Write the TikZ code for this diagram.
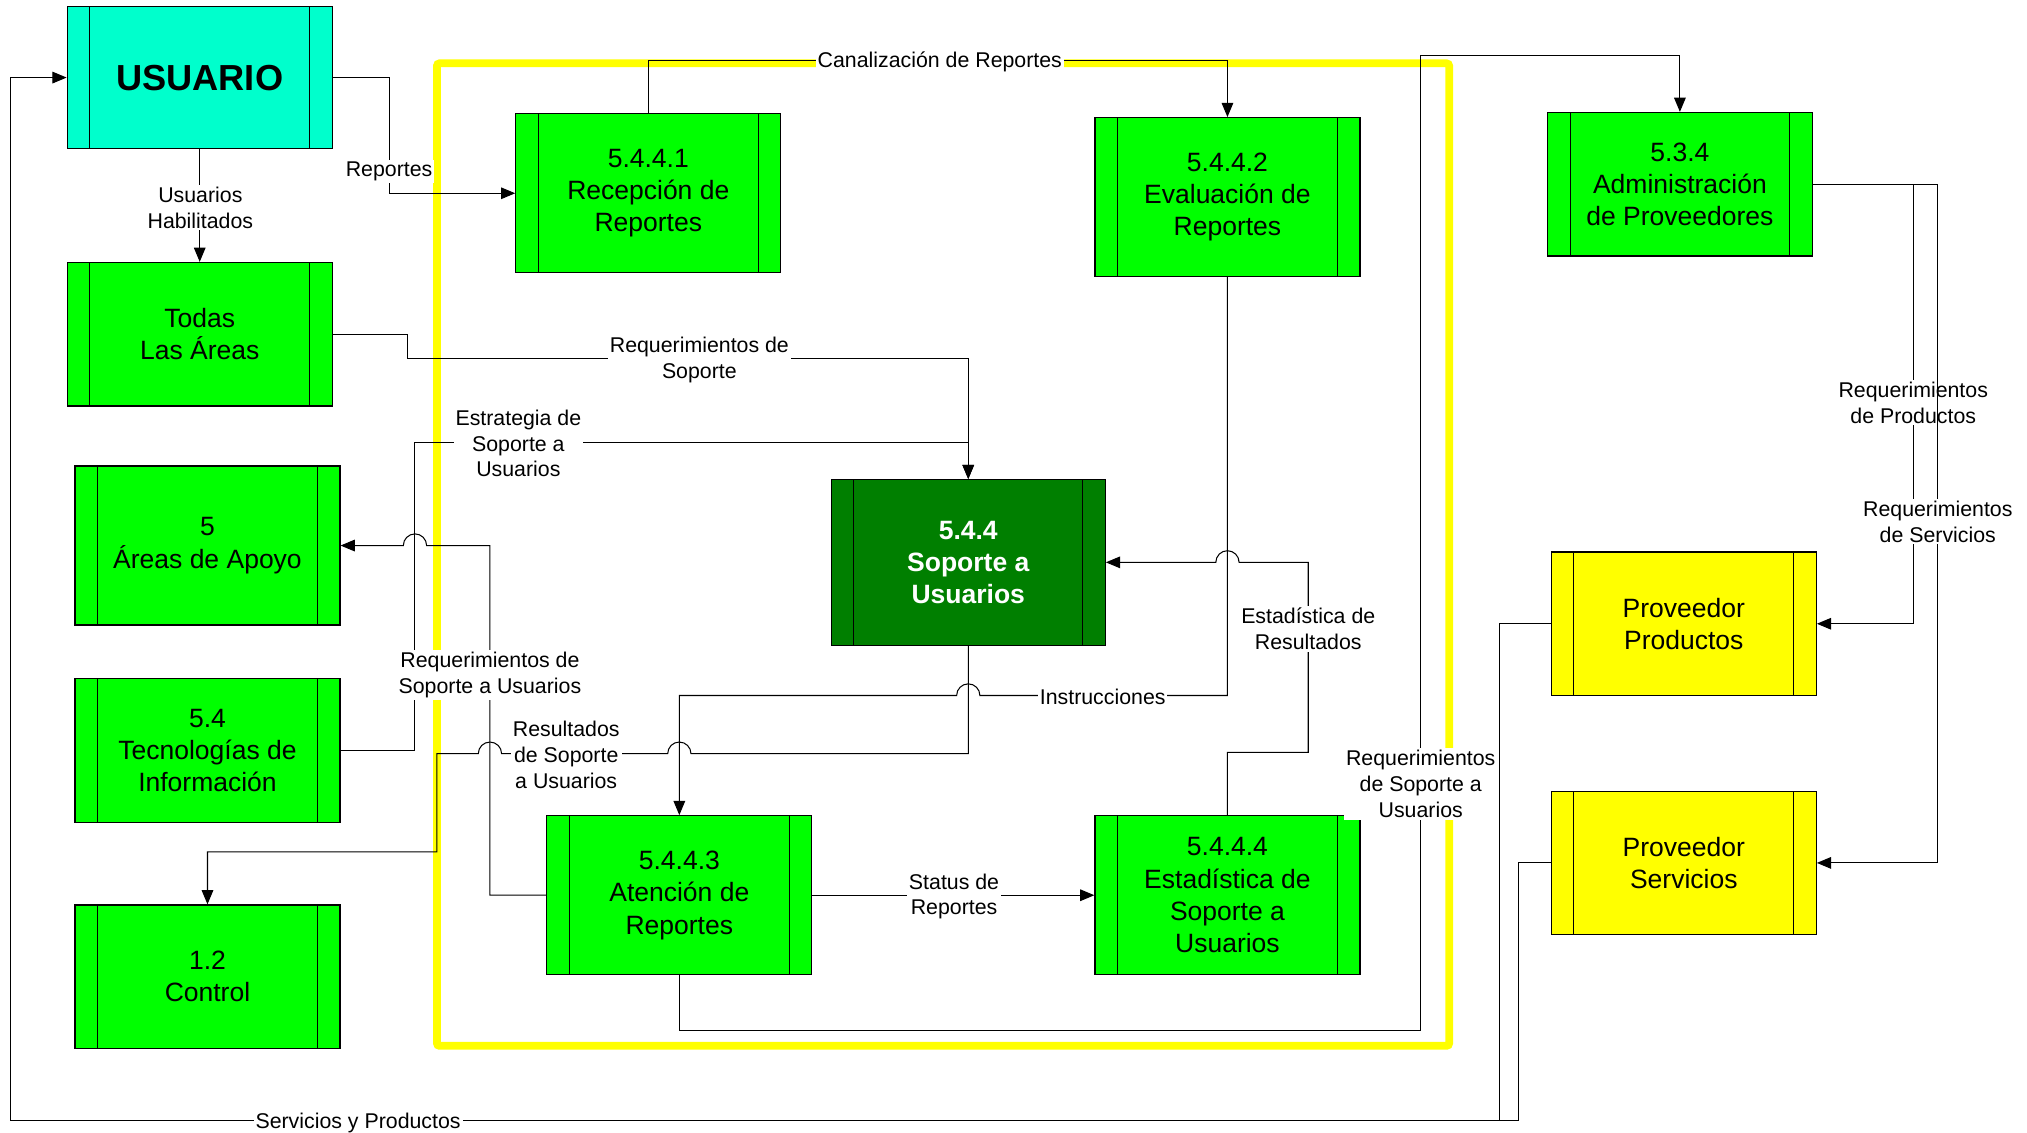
\documentclass[tikz,border=0pt]{standalone}
\usepackage{fontspec}
\setmainfont{Liberation Sans}
\usetikzlibrary{arrows.meta}
\definecolor{lgreen}{HTML}{00FF00}
\definecolor{dgreen}{HTML}{007F00}
\definecolor{cyanbox}{HTML}{00FFCC}
\definecolor{ybox}{HTML}{FFFF00}
\tikzset{
  box/.style={draw=black, line width=0.9pt, fill=lgreen, minimum width=205pt, minimum height=123pt,
    inner sep=0pt, align=center, font=\fontsize{20.5}{25}\selectfont,
    path picture={
      \draw[line width=0.8pt] ([xshift=17.5pt]path picture bounding box.north west) -- ([xshift=17.5pt]path picture bounding box.south west);
      \draw[line width=0.8pt] ([xshift=-17.5pt]path picture bounding box.north east) -- ([xshift=-17.5pt]path picture bounding box.south east);}},
  conn/.style={draw=black, line width=0.8pt, -{Triangle[length=11pt,width=9pt]}},
  plain/.style={draw=black, line width=0.8pt},
  lbl/.style={fill=white, inner sep=1.5pt, yshift=-1.5pt, align=center, font=\fontsize{16.5}{20}\selectfont}
}
\begin{document}
\begin{tikzpicture}[x=1pt,y=-1pt]
\useasboundingbox[fill=white] (0,0) rectangle (1568,876);
% yellow frame
\draw[ybox, line width=6pt, rounded corners=2pt] (338,49) rectangle (1121,809);
% boxes
\node[box, fill=cyanbox, minimum height=110pt, font=\fontsize{28}{34}\selectfont\bfseries] (usuario) at (154.5,60) {USUARIO};
\node[box, minimum height=111pt] (todas) at (154.5,258.5) {Todas\\Las Áreas};
\node[box] (apoyo) at (160.5,422) {5\\Áreas de Apoyo};
\node[box, minimum height=111pt] (tec) at (160.5,580.5) {5.4\\Tecnologías de\\Información};
\node[box, minimum height=111pt] (control) at (160.5,755.5) {1.2\\Control};
\node[box] (r1) at (501.5,149.5) {5.4.4.1\\Recepción de\\Reportes};
\node[box] (r2) at (949.5,152.5) {5.4.4.2\\Evaluación de\\Reportes};
\node[box, fill=dgreen, text=white, minimum width=212pt, minimum height=128pt, font=\fontsize{20.5}{25}\selectfont\bfseries] (s544) at (749,435) {5.4.4\\Soporte a\\Usuarios};
\node[box] (a3) at (525.5,692.5) {5.4.4.3\\Atención de\\Reportes};
\node[box] (e4) at (949.5,692.5) {5.4.4.4\\Estadística de\\Soporte a\\Usuarios};
\node[box, minimum height=111pt] (p534) at (1299.5,142.5) {5.3.4\\Administración\\de Proveedores};
\node[box, fill=ybox, minimum height=111pt] (pp) at (1302.5,482.5) {Proveedor\\Productos};
\node[box, fill=ybox, minimum height=111pt] (ps) at (1302.5,667.5) {Proveedor\\Servicios};
% connectors
\draw[conn] (usuario.east) -- (301,60) |- (r1.west);
\draw[conn] (usuario.south) -- (todas.north);
\draw[conn] (r1.north) |- (727,47) -| (r2.north);
\draw[conn] (todas.east) -- (315,258.5) |- (541,277) -| (s544.north);
\draw[conn] (tec.east) -| (321,342) -| (s544.north);
\draw[conn] (a3.west) -- (379,692.5) -- (379,422) -- (330,422) arc(0:-180:9) -- (apoyo.east);
\draw[conn] (s544.south) -- (749,583) -- (534.5,583) arc(0:-180:9) -- (388,583) arc(0:-180:9) -- (338,583) -- (338,659) -| (control.north);
\draw[conn] (r2.south) -- (949.5,538) -- (758,538) arc(0:-180:9) -- (525.5,538) -- (a3.north);
\draw[conn] (e4.north) -- (949.5,582) -- (1012,582) -- (1012,435) -- (958.5,435) arc(0:-180:9) -- (s544.east);
\draw[conn] (a3.east) -- (e4.west);
\draw[conn] (a3.south) -- (525.5,797) -| (1099,43) -| (p534.north);
\draw[conn] (p534.east) -| (1480,482.5) -- (pp.east);
\draw[plain] (pp.west) -- (1160,482.5) -- (1160,867);
\draw[conn] (ps.west) -- (1175,667.5) |- (8,867) |- (usuario.west);
% labels
\node[lbl] (lrep) at (301,131) {Reportes};
\node[lbl] (lhab) at (155,159) {Usuarios\\Habilitados};
\node[lbl] (lcan) at (727,46) {Canalización de Reportes};
\node[lbl] (lreq) at (541,277) {Requerimientos de\\Soporte};
\node[lbl] (lest) at (401,341.5) {Estrategia de\\Soporte a\\Usuarios};
\node[lbl] (lrsu) at (379,520.5) {Requerimientos de\\Soporte a Usuarios};
\node[lbl] (lres) at (438,582.5) {Resultados\\de Soporte\\a Usuarios};
\node[lbl] (lins) at (853,537.5) {Instrucciones};
\node[lbl] (lestr) at (1012,485) {Estadística de\\Resultados};
\node[lbl] (lsta) at (738,692) {Status de\\Reportes};
\node[lbl] (lrsu2) at (1099,605) {Requerimientos\\de Soporte a\\Usuarios};
\node[lbl] (lsyp) at (277,867) {Servicios y Productos};
\node[lbl] (lrp) at (1480,310) {Requerimientos\\de Productos};
% servicios after productos label
\draw[conn] (p534.east) -| (1499,667.5) -- (ps.east);
\node[lbl] (lrs) at (1499,402) {Requerimientos\\de Servicios};
\end{tikzpicture}
\end{document}
